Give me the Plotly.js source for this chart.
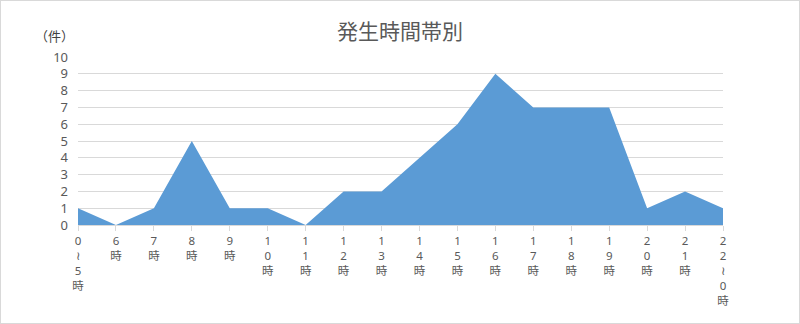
<!DOCTYPE html>
<html>
<head>
<meta charset="utf-8">
<script src="https://cdn.plot.ly/plotly-3.0.1.min.js"></script>
<style>
html,body{margin:0;padding:0;background:#fff;}
#chart{width:800px;height:324px;box-sizing:border-box;border:1px solid #d9d9d9;}
</style>
</head>
<body>
<div id="chart"></div>
<script>
const categories = ["0～5時","6時","7時","8時","9時","10時","11時","12時","13時","14時","15時","16時","17時","18時","19時","20時","21時","22～0時"];
const tickLabels = ["0<br>≀<br>5<br>時","6<br>時","7<br>時","8<br>時","9<br>時","1<br>0<br>時","1<br>1<br>時","1<br>2<br>時","1<br>3<br>時","1<br>4<br>時","1<br>5<br>時","1<br>6<br>時","1<br>7<br>時","1<br>8<br>時","1<br>9<br>時","2<br>0<br>時","2<br>1<br>時","2<br>2<br>≀<br>0<br>時"];
const counts = [1,0,1,5,1,1,0,2,2,4,6,9,7,7,7,1,2,1];

const xIdx = categories.map((c,i)=>i);
const font = '"Noto Sans CJK JP", "Noto Sans", sans-serif';
const numFont = '"Noto Sans", "Noto Sans CJK JP", sans-serif';

const trace = {
  x: xIdx, y: counts, type: 'scatter', mode: 'lines',
  fill: 'tozeroy', fillcolor: '#5b9bd5',
  line: {width: 0, color: '#5b9bd5'},
  text: categories, hoverinfo: 'text+y'
};

const layout = {
  width: 798, height: 322,
  margin: {l: 77, r: 76, t: 56, b: 98},
  paper_bgcolor: '#fff', plot_bgcolor: '#fff',
  showlegend: false,
  title: {text: '発生時間帯別', x: 0.5, xanchor: 'center', y: 0.905, yanchor: 'middle',
          font: {family: font, size: 21, color: '#595959'}},
  xaxis: {
    range: [0, 17], tickmode: 'array', tickvals: xIdx, ticktext: tickLabels,
    ticks: 'outside', ticklen: 5, tickcolor: '#d9d9d9',
    showgrid: false, zeroline: false, showline: true, linecolor: '#d9d9d9', linewidth: 1,
    tickfont: {family: numFont, size: 11.5, color: '#595959'}, tickangle: 0
  },
  yaxis: {
    range: [0, 10], dtick: 1, tick0: 0,
    showgrid: true, gridcolor: '#d9d9d9', gridwidth: 1,
    zeroline: false, showline: false, ticks: '', ticklabelstandoff: 9,
    tickfont: {family: numFont, size: 13, color: '#595959'}
  },
  annotations: [{
    text: '（件）', xref: 'paper', yref: 'paper', x: -0.036, y: 1.13,
    xanchor: 'center', yanchor: 'middle', showarrow: false,
    font: {family: font, size: 13, color: '#404040'}
  }]
};

Plotly.newPlot('chart', [trace], layout, {displayModeBar: false, staticPlot: true});
</script>
</body>
</html>
